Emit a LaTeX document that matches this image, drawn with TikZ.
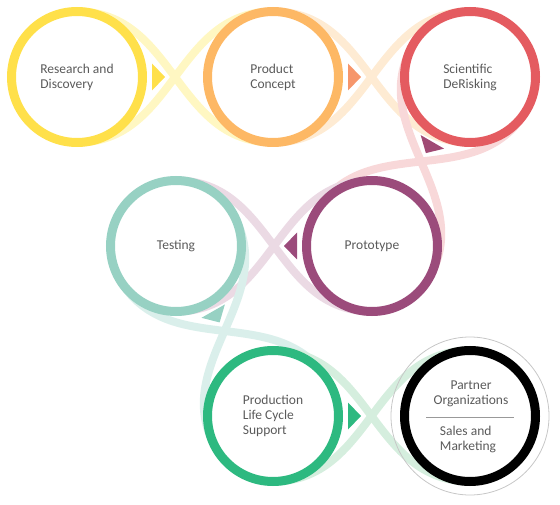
\documentclass[tikz,border=0pt]{standalone}
\usepackage{fontspec}
\setmainfont{Carlito}
\usetikzlibrary{calc,backgrounds}

\definecolor{ryellow}{HTML}{FFE04A}
\definecolor{rorange}{HTML}{FDB865}
\definecolor{rred}{HTML}{E45B60}
\definecolor{rpurple}{HTML}{9B4B7B}
\definecolor{rteal}{HTML}{97D1C3}
\definecolor{rgreen}{HTML}{2DB980}
\definecolor{byellow}{HTML}{FFF7C2}
\definecolor{borange}{HTML}{FEEBD3}
\definecolor{bred}{HTML}{F8D8D9}
\definecolor{bpurple}{HTML}{EBDAE4}
\definecolor{bteal}{HTML}{DAEFEB}
\definecolor{bgreen}{HTML}{D5EEDE}
\definecolor{tsalmon}{HTML}{F6966B}
\definecolor{tpurple}{HTML}{A04A74}
\definecolor{textgray}{HTML}{5A5A5A}

\begin{document}
\begin{tikzpicture}[x=1pt, y=-1pt,
    ring/.style={circle, draw=#1, line width=9pt, minimum size=131pt, inner sep=0pt},
    band/.style={draw=#1, line width=8pt},
    txt/.style={text=textgray, font=\fontsize{13.5}{15}\selectfont, align=left}]
    \def\r{65.5pt}

    \useasboundingbox (0,0) rectangle (560,505);

    \node[ring=ryellow, txt] (res) at (77,77) {Research and\\Discovery};
    \node[ring=rorange, txt] (con) at (273,77) {Product\\Concept};
    \node[ring=rred, txt] (sci) at (470,77) {Scientific\\DeRisking};

    \node[ring=rteal, txt] (tes) at (176,246) {Testing};
    \node[ring=rpurple, txt] (pro) at (372,246) {Prototype};

    \node[ring=rgreen, txt] (prd) at (273,416) {Production\\Life Cycle\\Support};
    \node[ring=black] (par) at (470,416) {};
    \draw[black!22, line width=0.8pt] (par) circle (79pt);

    \node[txt, align=center] (partop) at (471,394) {Partner\\Organizations};
    \node[txt] (parbot) at (468,439) {Sales and\\Marketing};
    \draw[black!40, line width=1pt] ($(par)+(-44,1)$) -- ($(par)+(44,1)$);

    % infinity bands behind the rings
    \begin{scope}[on background layer]
      \foreach \a/\b/\c in {res/con/byellow, con/sci/borange, sci/pro/bred,
                            pro/tes/bpurple, tes/prd/bteal, prd/par/bgreen} {
        \draw[band=\c] ($(\a)!\r!90:(\b)$)
          .. controls ($(\a)!\r!90:(\b) + 0.5*(\b) - 0.5*(\a)$)
          and ($(\b)!\r!90:(\a) - 0.5*(\b) + 0.5*(\a)$) .. ($(\b)!\r!90:(\a)$);
        \draw[band=\c] ($(\a)!\r!-90:(\b)$)
          .. controls ($(\a)!\r!-90:(\b) + 0.5*(\b) - 0.5*(\a)$)
          and ($(\b)!\r!-90:(\a) - 0.5*(\b) + 0.5*(\a)$) .. ($(\b)!\r!-90:(\a)$);
      }
    \end{scope}

    % arrow triangles
    \foreach \a/\b/\t in {res/con/ryellow, con/sci/tsalmon, sci/pro/tpurple,
                          pro/tes/rpurple, tes/prd/rteal, prd/par/rgreen} {
      \fill[\t] ($(\a)!88pt!(\b)$) -- ($(\a)!75pt!(\b)!13.5pt!90:(\b)$)
        -- ($(\a)!75pt!(\b)!13.5pt!-90:(\b)$) -- cycle;
    }
  \end{tikzpicture}
\end{document}
